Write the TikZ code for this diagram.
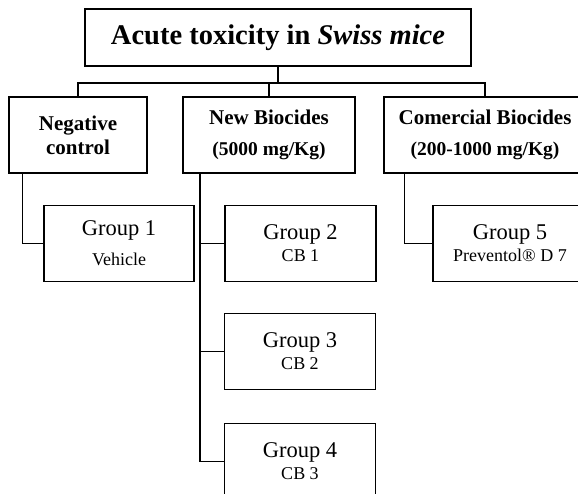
\documentclass[tikz,border=0pt]{standalone}
\usepackage{fontspec}
\setmainfont{Liberation Serif}
\begin{document}
\begin{tikzpicture}[x=1pt, y=-1pt,
        box/.style={rectangle, draw, line width=1.7pt, align=center, inner sep=2pt},
        catbox/.style={box, minimum height=76pt, font=\bfseries\fontsize{21}{24}\selectfont},
        groupbox/.style={box, minimum width=151pt, minimum height=76pt, font=\fontsize{22.5}{22}\selectfont},
        link/.style={line width=1.1pt},
        spinelink/.style={line width=2.2pt}]
    \useasboundingbox (0, 0) rectangle (578, 494);
    \node (title) at (278, 37.5) [box, minimum width=386pt, minimum height=57pt, font=\bfseries\fontsize{28.5}{30}\selectfont] {Acute toxicity in \textit{Swiss mice}};
    \node (neg) at (78, 135) [catbox, minimum width=138pt] {Negative\\control};
    \node (newb) at (269, 135) [catbox, minimum width=172pt] {New Biocides\\[7pt]{\fontsize{19.5}{22}\selectfont (5000 mg/Kg)}};
    \node (comb) at (485, 135) [catbox, minimum width=202pt] {Comercial Biocides\\[7pt]{\fontsize{19.5}{22}\selectfont (200-1000 mg/Kg)}};
    \node (g1) at (119, 243.5) [groupbox, minimum width=150pt] {Group 1\\[8pt]{\fontsize{18}{20}\selectfont Vehicle}};
    \node (g2) at (300.5, 243.5) [groupbox] {Group 2\\{\fontsize{18}{20}\selectfont CB 1}};
    \node (g3) at (300, 351.5) [groupbox] {Group 3\\{\fontsize{18}{20}\selectfont CB 2}};
    \node (g4) at (300, 461.5) [groupbox] {Group 4\\{\fontsize{18}{20}\selectfont CB 3}};
    \node (g5) at (510, 243.5) [groupbox, minimum width=154pt] {Group 5\\{\fontsize{18}{20}\selectfont Preventol® D 7}};
    % tree from the title down to the three categories
    \coordinate (bus) at (278, 83);
    \draw[spinelink] (title) -- (bus);
    \draw[link] (neg) |- (bus) -| (comb);
    \draw[link] (bus -| newb) -- (newb);
    % categories to their groups
    \coordinate (negdrop) at ([xshift=14.5pt]neg.south west);
    \coordinate (spine) at ([xshift=17.5pt]newb.south west);
    \coordinate (combdrop) at ([xshift=21.5pt]comb.south west);
    \draw[link] (negdrop) |- (g1);
    \draw[spinelink] (spine) -- (spine |- g4.west);
    \foreach \grp in {g2, g3, g4}
        \draw[link] (spine |- \grp.west) -- (\grp);
    \draw[link] (combdrop) |- (g5);
\end{tikzpicture}
\end{document}
